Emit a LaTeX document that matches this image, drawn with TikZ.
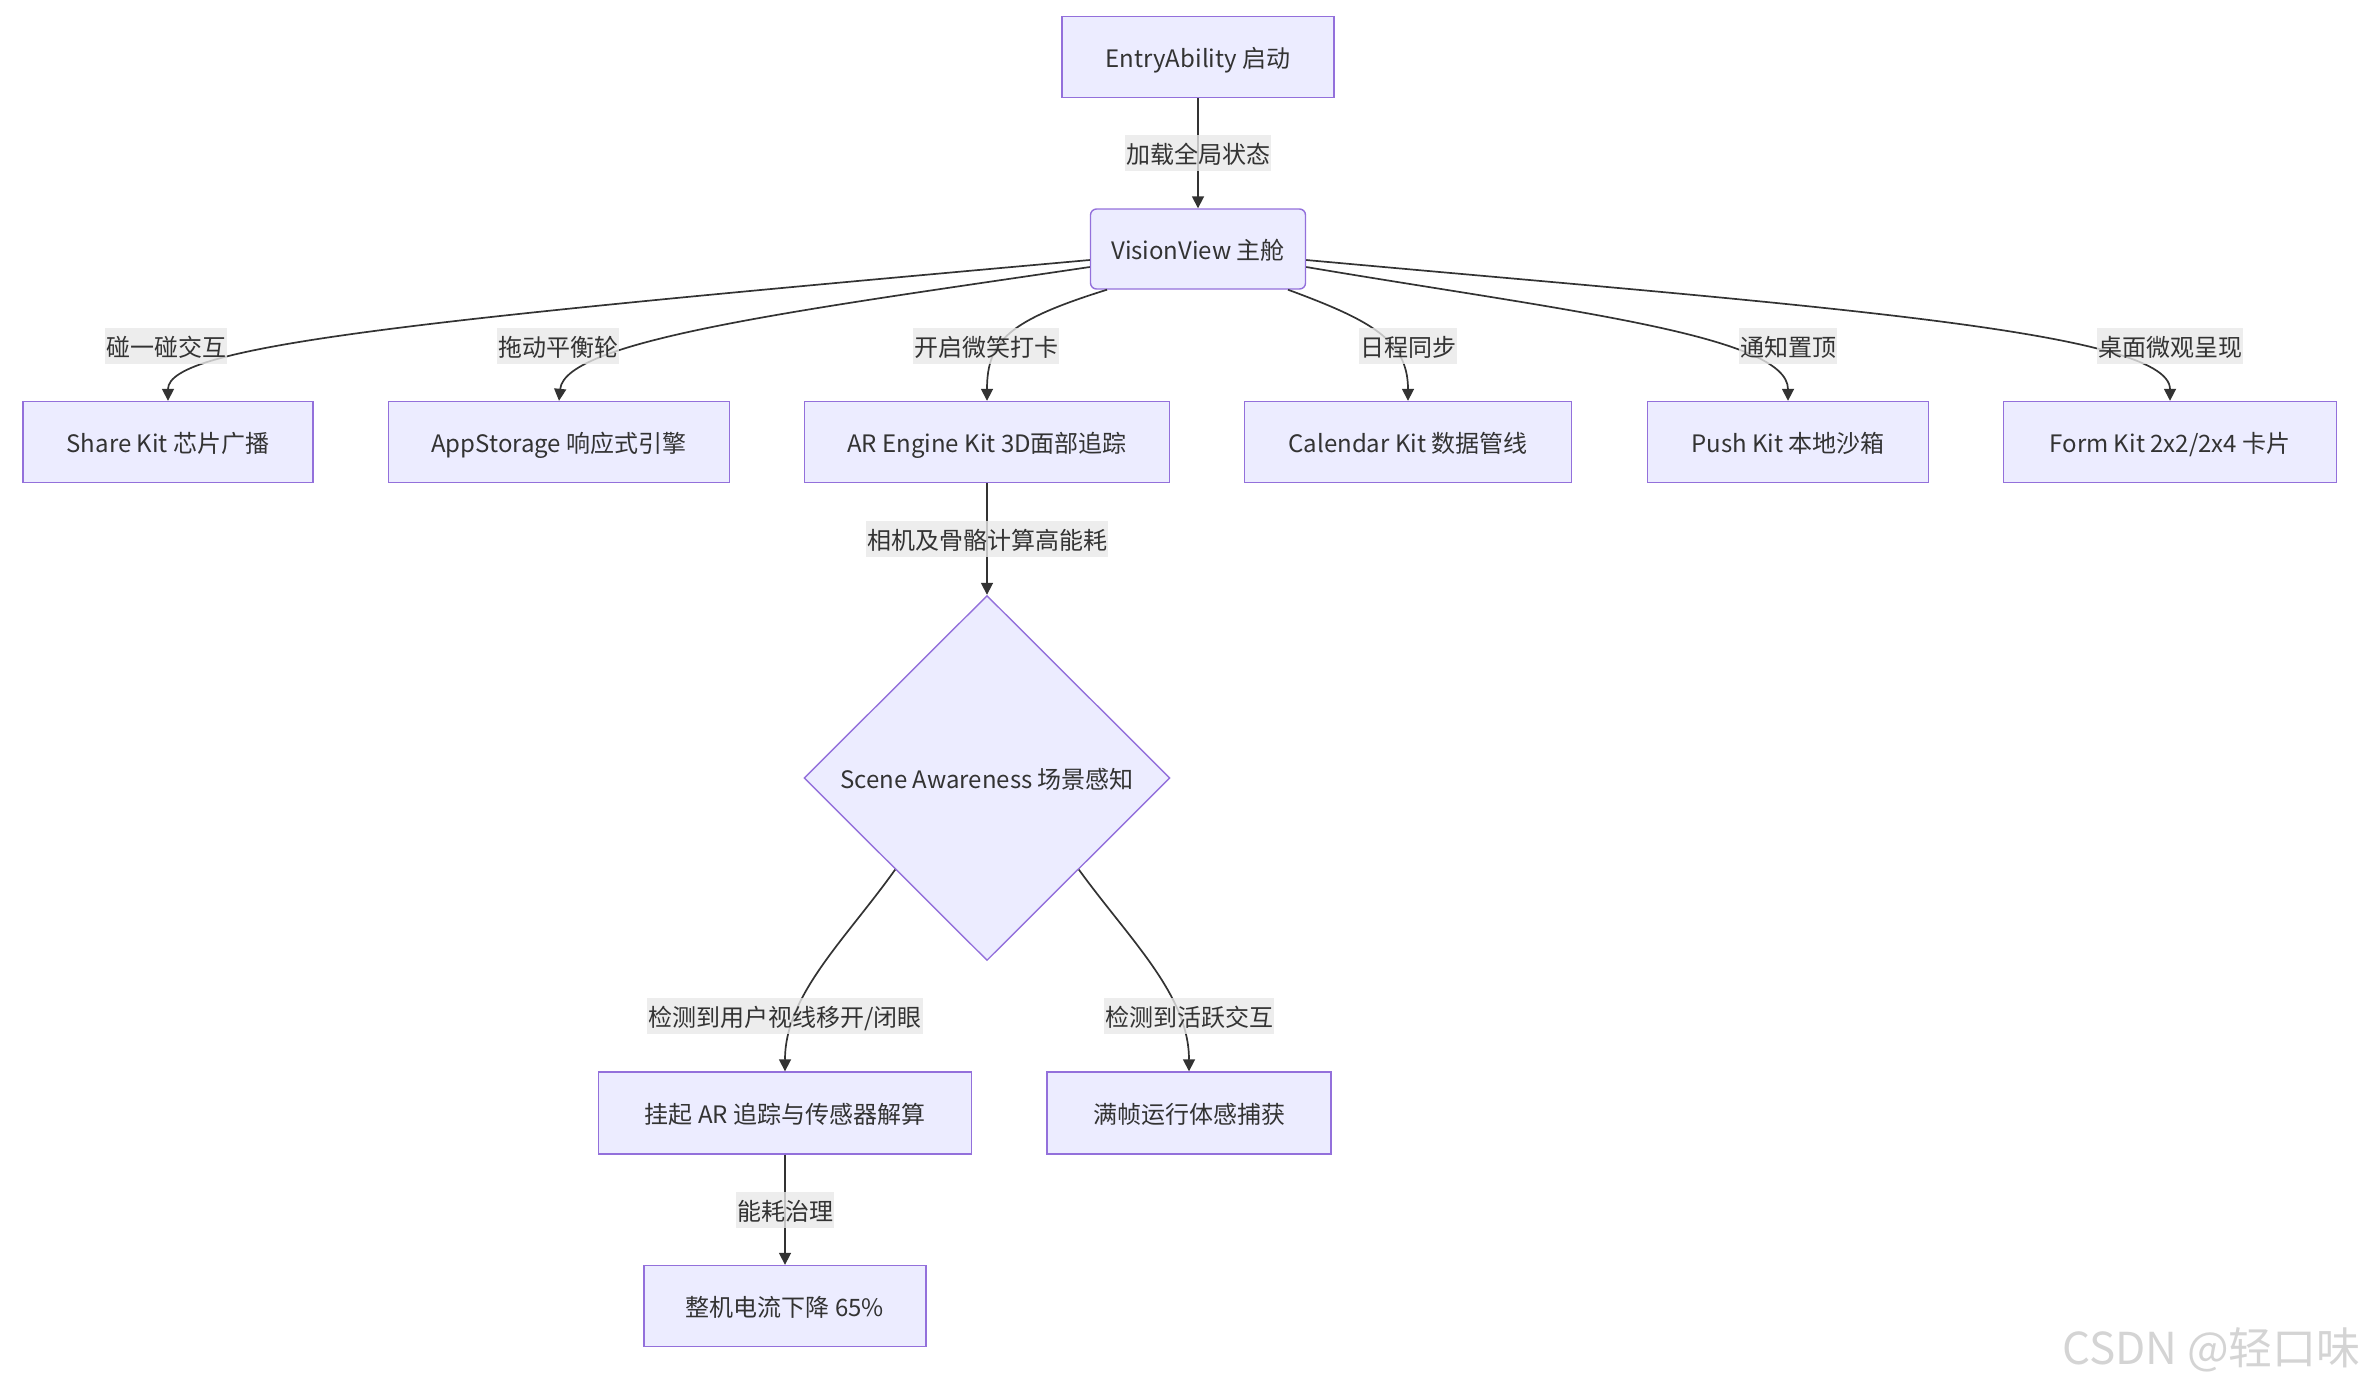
\documentclass[tikz,border=0pt]{standalone}
\usepackage{fontspec}
\setmainfont{Noto Sans CJK SC}
\usetikzlibrary{shapes.geometric,arrows.meta}
\definecolor{boxfill}{HTML}{ECECFF}
\definecolor{boxline}{HTML}{9370DB}
\definecolor{edgecol}{HTML}{333333}
\definecolor{lblbg}{HTML}{E8E8E8}
\definecolor{wm}{HTML}{D4D4D4}
\tikzset{
  txt/.style={text=edgecol, font=\fontsize{12pt}{14pt}\selectfont, text height=10.6pt, text depth=0.4pt},
  box/.style={txt, draw=boxline, fill=boxfill, line width=0.7pt, inner sep=0pt,
    minimum height=40.5pt},
  rbox/.style={box, rounded corners=3pt},
  dbox/.style={txt, draw=boxline, fill=boxfill, line width=0.7pt, diamond, inner sep=0pt,
    minimum width=183pt, minimum height=182.5pt},
  lbl/.style={txt, fill=lblbg, fill opacity=0.8, text opacity=1, inner xsep=0.5pt, inner ysep=0pt,
    minimum height=18pt},
  conn/.style={draw=edgecol, line width=0.85pt, -{Triangle[length=6pt,width=6pt]}},
}
\begin{document}
\begin{tikzpicture}[x=0.5pt,y=-0.5pt]
\useasboundingbox (0,0) rectangle (2372,1388);
% nodes
\node[box, minimum width=136pt] (entry) at (1198,57) {EntryAbility 启动};
\node[rbox, minimum width=107.5pt, minimum height=40pt] (vision) at (1198,249) {VisionView 主舱};
\node[box, minimum width=145pt] (share) at (168,442) {Share Kit 芯片广播};
\node[box, minimum width=170.5pt] (appst) at (559,442) {AppStorage 响应式引擎};
\node[box, minimum width=182.5pt] (ar) at (987,442) {AR Engine Kit 3D面部追踪};
\node[box, minimum width=163.5pt] (cal) at (1408,442) {Calendar Kit 数据管线};
\node[box, minimum width=140.5pt] (push) at (1788,442) {Push Kit 本地沙箱};
\node[box, minimum width=166.5pt] (form) at (2170,442) {Form Kit 2x2/2x4 卡片};
\node[dbox] (scene) at (987,778) {Scene Awareness 场景感知};
\node[box, minimum width=186.5pt, minimum height=41pt] (suspend) at (785,1113) {挂起 AR 追踪与传感器解算};
\node[box, minimum width=142pt, minimum height=41pt] (full) at (1189,1113) {满帧运行体感捕获};
\node[box, minimum width=141pt] (power) at (785,1306) {整机电流下降 65\%};
% connectors
\draw[conn] (entry.south) -- (vision.north);
\draw[conn] ([yshift=-5.5pt]vision.west) .. controls (420,320) and (168,345) .. (share.north);
\draw[conn] ([yshift=-9pt]vision.west) .. controls (800,310) and (565,340) .. (appst.north);
\draw[conn] ([xshift=-45.5pt]vision.south) .. controls (1010,320) and (987,340) .. (ar.north);
\draw[conn] ([xshift=45pt]vision.south) .. controls (1370,320) and (1408,340) .. (cal.north);
\draw[conn] ([yshift=-9pt]vision.east) .. controls (1560,310) and (1788,335) .. (push.north);
\draw[conn] ([yshift=-5.5pt]vision.east) .. controls (1800,305) and (2170,330) .. (form.north);
\draw[conn] (ar.south) -- (scene.north);
\draw[conn] (scene.south west) .. controls (845,940) and (785,995) .. (suspend.north);
\draw[conn] (scene.south east) .. controls (1130,940) and (1189,995) .. (full.north);
\draw[conn] (suspend.south) -- (power.north);
% labels
\node[lbl] (l1) at (1198,153) {加载全局状态};
\node[lbl] (l2) at (166,346) {碰一碰交互};
\node[lbl] (l3) at (558,346) {拖动平衡轮};
\node[lbl] (l4) at (986,346) {开启微笑打卡};
\node[lbl] (l5) at (1408,346) {日程同步};
\node[lbl] (l6) at (1788,346) {通知置顶};
\node[lbl] (l7) at (2170,346) {桌面微观呈现};
\node[lbl] (l8) at (987,539) {相机及骨骼计算高能耗};
\node[lbl] (l9) at (785,1016) {检测到用户视线移开/闭眼};
\node[lbl] (l10) at (1189,1016) {检测到活跃交互};
\node[lbl] (l11) at (785,1210) {能耗治理};
% watermark
\node[text=wm, font=\fontsize{22pt}{24pt}\selectfont, anchor=east] (wmk) at (2368,1350) {CSDN @轻口味};
\end{tikzpicture}
\end{document}
